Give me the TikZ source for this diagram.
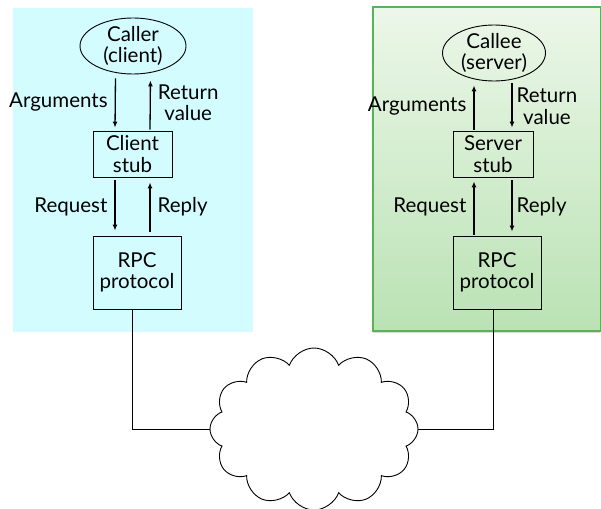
\documentclass[tikz,border=0pt]{standalone}
\usepackage{fontspec}
\setmainfont{Lato}
\usetikzlibrary{arrows.meta,shapes.geometric,shapes.symbols,shadows}

\definecolor{clientbg}{RGB}{210,252,255}
\definecolor{servertop}{RGB}{236,247,233}
\definecolor{serverbot}{RGB}{186,226,180}
\definecolor{serverline}{RGB}{90,178,86}

\begin{document}
\begin{tikzpicture}[x=1pt,y=-1pt,
  txt/.style={font=\fontsize{20.5}{21.5}\selectfont,align=center,inner sep=0},
  box/.style={txt,draw,line width=0.9pt},
  ell/.style={txt,draw,ellipse,line width=0.9pt},
  arr/.style={-{Latex[length=6pt,width=5pt]},line width=1.3pt},
  wire/.style={line width=0.9pt}]
\useasboundingbox (0,0) rectangle (601,508);

% the two hosts
\fill [clientbg] (13,8) rectangle (253,332);
\draw [serverline,line width=1.2pt,top color=servertop,bottom color=serverbot,
  drop shadow={opacity=0.3,shadow xshift=0pt,shadow yshift=-2pt}] (373,7) rectangle (600.4,331);

% client side
\node [ell,minimum width=106,minimum height=55] (caller) at (133,46) {Caller\\(client)};
\node [box,minimum width=79,minimum height=46] (cstub) at (132.5,154) {Client\\stub};
\node [box,minimum width=88,minimum height=73] (crpc) at (137,272.5) {RPC\\protocol};

\draw [arr,shorten <=4pt,shorten >=3pt] ([xshift=-17.5]caller.south) -- ([xshift=-17.5]cstub.north)
  node [txt,midway,left=7pt] (cargs) {Arguments};
\draw [arr,shorten >=6pt,shorten <=1pt] ([xshift=17.5]cstub.north) -- ([xshift=17.5]caller.south)
  node [txt,midway,right=7pt] (cret) {Return\\value};
\draw [arr,shorten <=3pt,shorten >=5pt] ([xshift=-17.5]cstub.south) -- ([xshift=-17.5]cstub.south |- crpc.north)
  node [txt,midway,left=7pt] (creq) {Request};
\draw [arr,shorten <=4pt,shorten >=5pt] ([xshift=17.5]cstub.south |- crpc.north) -- ([xshift=17.5]cstub.south)
  node [txt,midway,right=7pt] (crep) {Reply};

% server side
\node [ell,minimum width=103,minimum height=50] (callee) at (494,53) {Callee\\(server)};
\node [box,minimum width=80,minimum height=46] (sstub) at (493,154) {Server\\stub};
\node [box,minimum width=88,minimum height=73] (srpc) at (497,272.5) {RPC\\protocol};

\draw [arr,shorten >=4pt,shorten <=1pt] ([xshift=-19]sstub.north) -- ([xshift=-19]sstub.north |- callee.south)
  node [txt,midway,left=7pt] (sargs) {Arguments};
\draw [arr,shorten <=2pt,shorten >=3pt] ([xshift=19]sstub.north |- callee.south) -- ([xshift=19]sstub.north)
  node [txt,midway,right=4pt] (sret) {Return\\value};
\draw [arr,shorten <=1pt,shorten >=4pt] ([xshift=-19]sstub.south |- srpc.north) -- ([xshift=-19]sstub.south)
  node [txt,midway,left=7pt] (sreq) {Request};
\draw [arr,shorten <=3pt,shorten >=4pt] ([xshift=19]sstub.south) -- ([xshift=19]sstub.south |- srpc.north)
  node [txt,midway,right=4pt] (srep) {Reply};

% the network
\node [cloud,draw,cloud puffs=12,cloud puff arc=140,minimum width=208,minimum height=162,inner sep=0,line width=0.9pt] (net) at (314,429) {};
\draw [wire] (crpc.south -| cstub.south) |- (net.west);
\draw [wire] (srpc.south -| sstub.south) |- (net.east);
\end{tikzpicture}
\end{document}
